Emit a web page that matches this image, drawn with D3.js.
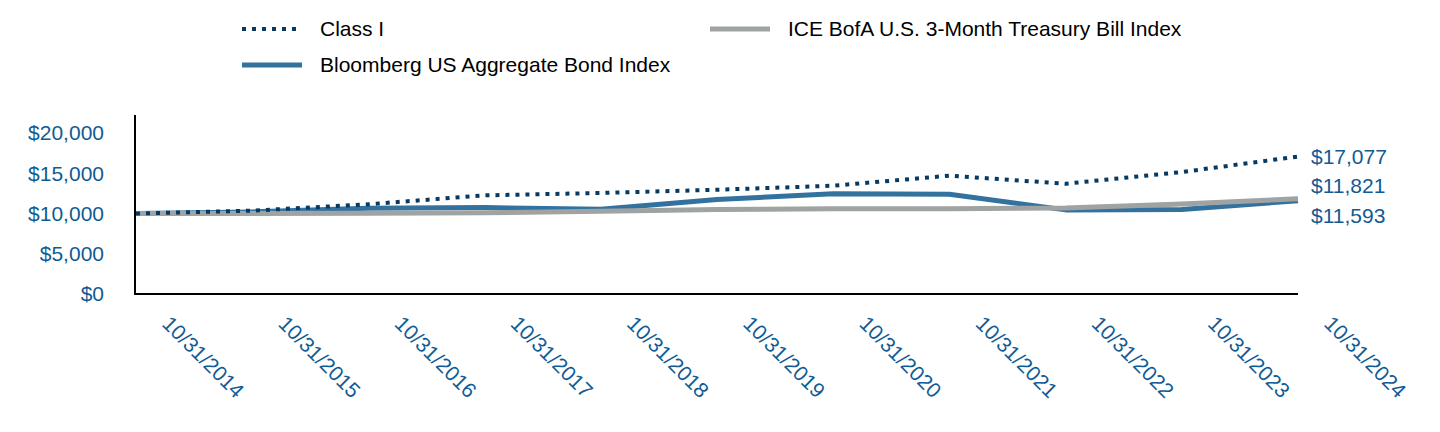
<!DOCTYPE html>
<html><head><meta charset="utf-8">
<script src="https://cdn.jsdelivr.net/npm/d3@7"></script>
<style>body{margin:0;background:#fff;} svg{display:block;font-family:"Liberation Sans",Arial,sans-serif;}</style>
</head><body>
<svg id="chart" width="1440" height="432"></svg>
<script>
const dates = ["10/31/2014","10/31/2015","10/31/2016","10/31/2017","10/31/2018","10/31/2019","10/31/2020","10/31/2021","10/31/2022","10/31/2023","10/31/2024"];
const classI = [10000,10350,11150,12250,12550,12950,13450,14700,13700,15150,17077];
const bloomberg = [10000,10196,10642,10737,10517,11727,12453,12393,10450,10488,11593];
const iceTbill = [10000,10002,10028,10101,10266,10507,10591,10597,10679,11188,11821];
const yTicks = [0,5000,10000,15000,20000];
const seriesNames = ["Class I","Bloomberg US Aggregate Bond Index","ICE BofA U.S. 3-Month Treasury Bill Index"];

const labelColor = "#105b94";
const FS = 21;
const svg = d3.select("#chart");
const x = d3.scalePoint().domain(dates).range([136,1298]);
const y = d3.scaleLinear().domain([0,22236]).range([294,115]);
const fmt = v => "$" + d3.format(",")(v);

// y labels
svg.append("g").selectAll("text").data(yTicks).join("text")
  .attr("x",104).attr("y",d=>y(d)).attr("dy","0.35em")
  .attr("text-anchor","end").attr("font-size",FS).attr("fill",labelColor)
  .text(fmt);

// axes lines
svg.append("line").attr("x1",135).attr("x2",135).attr("y1",115).attr("y2",y(0)+1)
  .attr("stroke","#000").attr("stroke-width",2);
svg.append("line").attr("x1",134).attr("x2",1298).attr("y1",y(0)).attr("y2",y(0))
  .attr("stroke","#000").attr("stroke-width",2);

// x labels
svg.append("g").selectAll("text").data(dates).join("text")
  .attr("transform",d=>`translate(${x(d)+25},325) rotate(45)`)
  .attr("font-size",FS).attr("fill",labelColor).text(d=>d);

const line = d3.line().x((d,i)=>x(dates[i])).y(d=>y(d));
const series = [
  {name:seriesNames[1], data:bloomberg, color:"#33729e", w:5, dash:null},
  {name:seriesNames[2], data:iceTbill, color:"#a0a3a3", w:5, dash:null},
  {name:seriesNames[0], data:classI, color:"#073a63", w:4, dash:"4,6"}
];
series.forEach(s=>{
  svg.append("path").attr("d",line(s.data)).attr("fill","none")
    .attr("stroke",s.color).attr("stroke-width",s.w)
    .attr("stroke-dasharray",s.dash).attr("stroke-linejoin","round");
});

// end labels
const endLabels = [
  {v:classI[10], yy:157},
  {v:iceTbill[10], yy:186},
  {v:bloomberg[10], yy:216}
];
svg.append("g").selectAll("text").data(endLabels).join("text")
  .attr("x",1311).attr("y",d=>d.yy).attr("dy","0.35em")
  .attr("font-size",FS).attr("fill",labelColor).text(d=>fmt(d.v));

// legend
const legend = [
  {name:seriesNames[0], x:242, y:29, color:"#073a63", w:4, dash:"4,6"},
  {name:seriesNames[1], x:242, y:65, color:"#33729e", w:5, dash:null},
  {name:seriesNames[2], x:710, y:29, color:"#a0a3a3", w:5, dash:null}
];
legend.forEach(l=>{
  svg.append("line").attr("x1",l.x).attr("x2",l.x+60).attr("y1",l.y).attr("y2",l.y)
    .attr("stroke",l.color).attr("stroke-width",l.w).attr("stroke-dasharray",l.dash);
  svg.append("text").attr("x",l.x+78).attr("y",l.y).attr("dy","0.35em")
    .attr("font-size",FS).attr("fill","#000").text(l.name);
});
</script>
</body></html>
